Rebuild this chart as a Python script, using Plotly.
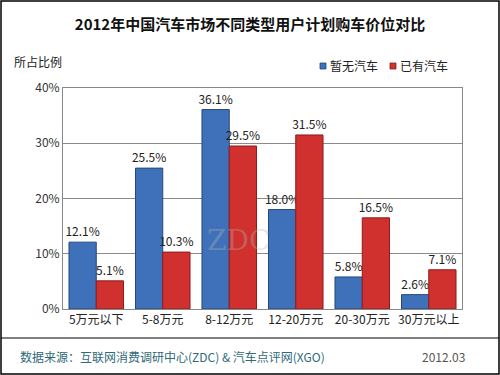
import plotly.graph_objects as go

categories = ["5万元以下", "5-8万元", "8-12万元", "12-20万元", "20-30万元", "30万元以上"]
no_car = [12.1, 25.5, 36.1, 18.0, 5.8, 2.6]
has_car = [5.1, 10.3, 29.5, 31.5, 16.5, 7.1]
series_names = ["暂无汽车", "已有汽车"]
y_ticks = [0, 10, 20, 30, 40]
y_tick_labels = ["0%", "10%", "20%", "30%", "40%"]

W, H = 500, 375
L, R, T, B = 63, 38, 88, 66
pw, ph = W - L - R, H - T - B

def px(x):
    return (x - L) / pw

def py(y):
    return (H - B - y) / ph

FONT = "Noto Sans CJK SC, Noto Sans, sans-serif"
BLUE, BLUE_EDGE = "#3f71ba", "#24477e"
RED, RED_EDGE = "#d0302e", "#8e1c1a"

fig = go.Figure()
fig.add_trace(go.Bar(
    x=categories, y=no_car, name=series_names[0],
    marker=dict(color=BLUE, line=dict(color=BLUE_EDGE, width=1)),
    text=[f"{v:.1f}%" for v in no_car], textposition="outside", constraintext="none",
    textfont=dict(size=12, color="#222222", family=FONT), cliponaxis=False,
))
fig.add_trace(go.Bar(
    x=categories, y=has_car, name=series_names[1],
    marker=dict(color=RED, line=dict(color=RED_EDGE, width=1)),
    text=[f"{v:.1f}%" for v in has_car], textposition="outside", constraintext="none",
    textfont=dict(size=12, color="#222222", family=FONT), cliponaxis=False,
))

shapes = [
    dict(type="rect", xref="paper", yref="paper", x0=px(1), x1=px(499), y0=py(374), y1=py(1),
         line=dict(color="#000000", width=1.5), fillcolor="rgba(0,0,0,0)", layer="above"),
    dict(type="line", xref="paper", yref="paper", x0=px(1), x1=px(499), y0=py(338), y1=py(338),
         line=dict(color="#000000", width=1.2)),
]
annotations = [
    dict(text="所占比例", x=px(12), y=py(62), xref="paper", yref="paper",
         xanchor="left", yanchor="middle", showarrow=False,
         font=dict(size=12, color="#222222")),
    dict(text="数据来源：互联网消费调研中心(ZDC) & 汽车点评网(XGO)", x=px(18), y=py(356),
         xref="paper", yref="paper", xanchor="left", yanchor="middle", showarrow=False,
         font=dict(size=12, color="#2f6a78")),
    dict(text="2012.03", x=px(420), y=py(356), xref="paper", yref="paper",
         xanchor="left", yanchor="middle", showarrow=False,
         font=dict(size=12, color="#555555")),
    dict(text="ZDC", x=px(205), y=py(240), xref="paper", yref="paper",
         xanchor="left", yanchor="middle", showarrow=False,
         font=dict(size=28, color="rgba(180,180,180,0.35)", family="DejaVu Serif")),
]
# custom small legend
for name, col, edge, lx in [(series_names[0], BLUE, BLUE_EDGE, 320), (series_names[1], RED, RED_EDGE, 390)]:
    shapes.append(dict(type="rect", xref="paper", yref="paper",
                       x0=px(lx), x1=px(lx + 6), y0=py(69), y1=py(63),
                       fillcolor=col, line=dict(color=edge, width=0.8)))
    annotations.append(dict(text=name, x=px(lx + 8), y=py(66), xref="paper", yref="paper",
                            xanchor="left", yanchor="middle", showarrow=False,
                            font=dict(size=12, color="#222222")))

fig.update_layout(
    width=W, height=H,
    margin=dict(l=L, r=R, t=T, b=B, autoexpand=False),
    paper_bgcolor="white", plot_bgcolor="white",
    barmode="group", bargap=0.18, bargroupgap=0.0,
    font=dict(family=FONT, size=12, color="#222222"),
    showlegend=False,
    title=dict(text="<b>2012年中国汽车市场不同类型用户计划购车价位对比</b>",
               x=0.5, xref="container", xanchor="center", y=1 - 25 / H, yanchor="middle",
               font=dict(size=15, color="#111111", family=FONT)),
    xaxis=dict(showline=True, linecolor="#888888", linewidth=1, mirror=True,
               ticks="", tickfont=dict(size=12, color="#222222"), showgrid=False,
               automargin=False),
    yaxis=dict(range=[0, 40], tickvals=y_ticks, ticktext=y_tick_labels,
               showline=True, linecolor="#888888", linewidth=1, mirror=True,
               showgrid=True, gridcolor="#8a8a8a", gridwidth=1, ticks="",
               tickfont=dict(size=12, color="#333333"), zeroline=False,
               automargin=False),
    annotations=annotations,
    shapes=shapes,
)

fig.write_html("out.html", config={"displayModeBar": False},
               post_script="document.body.style.margin='0';document.body.style.padding='0';")
